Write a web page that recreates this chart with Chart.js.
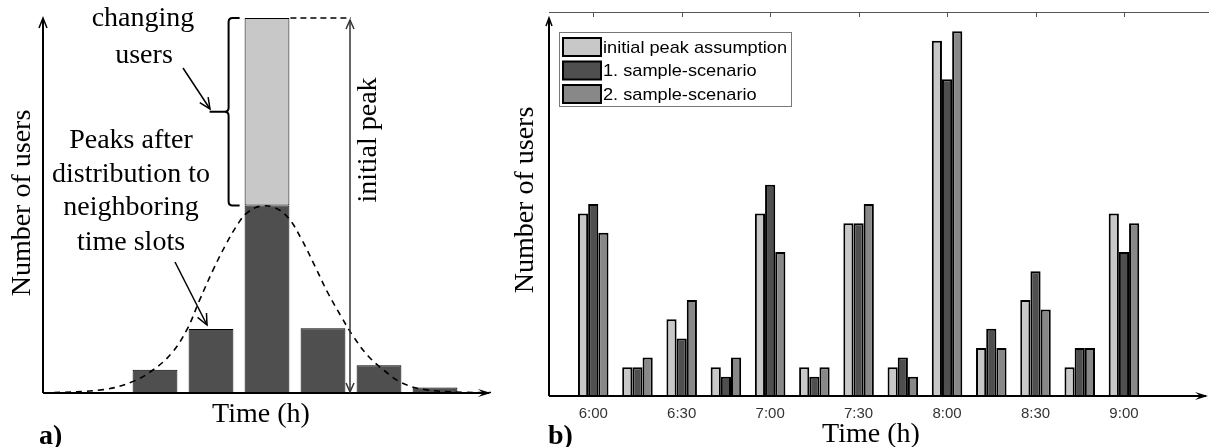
<!DOCTYPE html>
<html>
<head>
<meta charset="utf-8">
<script src="https://cdn.jsdelivr.net/npm/chart.js@4"></script>
<style>
  body { margin: 0; background: #fff; }
  #wrap { position: relative; width: 1209px; height: 447px; }
  canvas { position: absolute; top: 0; }
</style>
</head>
<body>
<div id="wrap">
  <canvas id="chartA" width="500" height="447" style="left:0"></canvas>
  <canvas id="chartB" width="709" height="447" style="left:500px"></canvas>
</div>
<script>
// ---- panel a) (schematic, slot 0 = the peak slot) ----
const slotsA = [-2, -1, 0, 1, 2, 3];
const peaksAfter = [6.2, 17.1, 50, 17.3, 7.4, 1.5];
const initialPeak = [0, 0, 100, 0, 0, 0];
const curveX = [-4, -2.92, -2.39, -2.03, -1.7, -1.43, -1.2, -0.96, -0.72, -0.51, -0.36, -0.12, 0.14, 0.38, 0.62, 0.86, 1.09, 1.34, 1.54, 1.81, 2.11, 2.41, 2.82, 3.5, 4];
const curveY = [0, 0.9, 3.1, 6.2, 10.7, 16.9, 24.9, 32.9, 40, 45.3, 48, 49.8, 49.4, 46.7, 40.9, 33.7, 26.6, 20, 15.1, 9.8, 5.8, 2.7, 0.9, 0.2, 0.1];

// ---- panel b) ----
const times = ['6:00', '6:15', '6:30', '6:45', '7:00', '7:15', '7:30', '7:45', '8:00', '8:15', '8:30', '8:45', '9:00'];
const tickLabels = ['6:00', '6:30', '7:00', '7:30', '8:00', '8:30', '9:00'];
const initialAssumption = [19, 3, 8, 3, 19, 3, 18, 3, 37, 5, 10, 3, 19];
const scenario1 = [20, 3, 6, 2, 22, 2, 18, 4, 33, 7, 13, 5, 15];
const scenario2 = [17, 4, 10, 4, 15, 3, 20, 2, 38, 5, 9, 5, 18];

const serif = "'Liberation Serif', 'Times New Roman', serif";
const sans = "'Liberation Sans', Arial, sans-serif";

function chevron(ctx, x, y, dx, dy, w, l) {
    // open arrow head at (x,y) pointing in direction (dx,dy)
    ctx.beginPath();
    ctx.moveTo(x - dx * l - dy * w, y - dy * l + dx * w);
    ctx.lineTo(x, y);
    ctx.lineTo(x - dx * l + dy * w, y - dy * l - dx * w);
    ctx.stroke();
}

function solidHead(ctx, x, y, dx, dy, w, l) {
    ctx.beginPath();
    ctx.moveTo(x, y);
    ctx.lineTo(x - dx * l - dy * w, y - dy * l + dx * w);
    ctx.lineTo(x - dx * l * 0.6, y - dy * l * 0.6);
    ctx.lineTo(x - dx * l + dy * w, y - dy * l - dx * w);
    ctx.closePath();
    ctx.fill();
}

function arrow(ctx, x1, y1, x2, y2) {
    const len = Math.hypot(x2 - x1, y2 - y1);
    const dx = (x2 - x1) / len, dy = (y2 - y1) / len;
    ctx.beginPath();
    ctx.moveTo(x1, y1);
    ctx.lineTo(x2, y2);
    ctx.stroke();
    chevron(ctx, x2, y2, dx, dy, 5, 11);
}

const annotA = {
    id: 'annotA',
    afterDraw(chart) {
        const ctx = chart.ctx;
        const a = chart.chartArea;
        const xs = chart.scales.x, ys = chart.scales.y;
        ctx.save();
        ctx.strokeStyle = '#000';
        ctx.fillStyle = '#000';

        // axes
        ctx.lineWidth = 2;
        ctx.beginPath();
        ctx.moveTo(a.left, a.bottom);
        ctx.lineTo(a.left, a.top + 1);
        ctx.moveTo(a.left, a.bottom);
        ctx.lineTo(a.right - 2, a.bottom);
        ctx.stroke();
        ctx.lineWidth = 1.5;
        chevron(ctx, a.left, a.top, 0, -1, 4, 10);
        solidHead(ctx, a.right, a.bottom, 1, 0, 4, 13);

        // brace around the changing users
        const i0 = slotsA.indexOf(0);
        const peakTop = ys.getPixelForValue(initialPeak[i0]);
        const peakMid = ys.getPixelForValue(peaksAfter[i0]);
        const barLeft = xs.getPixelForValue(-0.4);
        const bx = barLeft - 16;
        const by = (peakTop + peakMid) / 2;
        ctx.lineWidth = 2;
        ctx.beginPath();
        ctx.moveTo(bx + 11, peakTop);
        ctx.lineTo(bx + 4, peakTop);
        ctx.quadraticCurveTo(bx, peakTop, bx, peakTop + 4);
        ctx.lineTo(bx, by - 4);
        ctx.quadraticCurveTo(bx, by, bx - 4, by);
        ctx.lineTo(bx - 19, by);
        ctx.moveTo(bx - 4, by);
        ctx.quadraticCurveTo(bx, by, bx, by + 4);
        ctx.lineTo(bx, peakMid - 4);
        ctx.quadraticCurveTo(bx, peakMid, bx + 4, peakMid);
        ctx.lineTo(bx + 11, peakMid);
        ctx.stroke();

        // pointer arrows
        ctx.lineWidth = 1.5;
        arrow(ctx, 183, 68, 210, 109);
        arrow(ctx, 175, 262, 207, 325);

        // initial peak marker
        const barRight = xs.getPixelForValue(0.4);
        const vx = 350;
        ctx.setLineDash([6, 4]);
        ctx.beginPath();
        ctx.moveTo(barRight + 1, peakTop);
        ctx.lineTo(vx + 1, peakTop);
        ctx.stroke();
        ctx.setLineDash([]);
        ctx.strokeStyle = '#333';
        ctx.beginPath();
        ctx.moveTo(vx, peakTop + 2);
        ctx.lineTo(vx, a.bottom - 1);
        ctx.stroke();
        chevron(ctx, vx, peakTop + 2, 0, -1, 4, 9);
        chevron(ctx, vx, a.bottom - 1, 0, 1, 4, 9);

        // texts
        ctx.fillStyle = '#000';
        ctx.font = '28px ' + serif;
        ctx.textAlign = 'center';
        ctx.textBaseline = 'alphabetic';
        ctx.fillText('changing', 143, 26);
        ctx.fillText('users', 144, 63);
        ctx.fillText('Peaks after', 131, 148);
        ctx.fillText('distribution to', 131, 182);
        ctx.fillText('neighboring', 131, 215);
        ctx.fillText('time slots', 131, 250);

        ctx.textBaseline = 'middle';
        ctx.fillText('Time (h)', 261, 415);

        ctx.save();
        ctx.translate(369, 140);
        ctx.rotate(-Math.PI / 2);
        ctx.fillText('initial peak', 0, 0);
        ctx.restore();

        ctx.save();
        ctx.translate(23, 203);
        ctx.rotate(-Math.PI / 2);
        ctx.fillText('Number of users', 0, 0);
        ctx.restore();

        ctx.font = 'bold 28px ' + serif;
        ctx.textAlign = 'left';
        ctx.fillText('a)', 39, 437);
        ctx.restore();
    }
};

new Chart(document.getElementById('chartA'), {
    type: 'bar',
    data: {
        datasets: [{
            type: 'line',
            data: curveX.map((x, i) => ({ x: x, y: curveY[i] })),
            borderColor: '#000',
            borderWidth: 1.6,
            borderDash: [6, 5],
            pointRadius: 0,
            tension: 0.4,
            fill: false
        }, {
            data: slotsA.map((x, i) => ({ x: x, y: peaksAfter[i] })),
            backgroundColor: '#4f4f4f',
            borderColor: '#000',
            borderWidth: 1,
            borderSkipped: false,
            grouped: false,
            categoryPercentage: 0.8,
            barPercentage: 1
        }, {
            data: slotsA.map((x, i) => ({ x: x, y: [peaksAfter[i], initialPeak[i]] }))
                .filter((d, i) => initialPeak[i] > 0),
            backgroundColor: '#c8c8c8',
            borderColor: '#000',
            borderWidth: 1,
            borderSkipped: false,
            grouped: false,
            categoryPercentage: 0.8,
            barPercentage: 1
        }]
    },
    options: {
        responsive: false,
        animation: false,
        layout: { padding: { left: 43, top: 18, right: 9, bottom: 54 } },
        scales: {
            x: { type: 'linear', min: -4, max: 4, offset: false, display: false, ticks: { stepSize: 1 } },
            y: { min: 0, max: 100, display: false }
        },
        plugins: { legend: { display: false }, tooltip: { enabled: false } }
    },
    plugins: [annotA]
});

// ---- panel b) ----
const seriesB = [
    { label: 'initial peak assumption', values: initialAssumption, color: '#c8c8c8' },
    { label: '1. sample-scenario', values: scenario1, color: '#4f4f4f' },
    { label: '2. sample-scenario', values: scenario2, color: '#888888' }
];
const tickIdx = tickLabels.map(t => times.indexOf(t));

const annotB = {
    id: 'annotB',
    afterDraw(chart) {
        const ctx = chart.ctx;
        const a = chart.chartArea;
        const xs = chart.scales.x;
        ctx.save();

        // top frame with ticks, small ticks at the bottom
        ctx.strokeStyle = '#555';
        ctx.lineWidth = 1;
        ctx.beginPath();
        ctx.moveTo(a.left, a.top + 0.5);
        ctx.lineTo(chart.width, a.top + 0.5);
        tickIdx.forEach(v => {
            const px = Math.round(xs.getPixelForValue(v)) + 0.5;
            ctx.moveTo(px, a.top);
            ctx.lineTo(px, a.top + 5);
            ctx.moveTo(px, a.bottom);
            ctx.lineTo(px, a.bottom - 5);
        });
        ctx.stroke();

        // axes
        ctx.strokeStyle = '#000';
        ctx.fillStyle = '#000';
        ctx.lineWidth = 2;
        ctx.beginPath();
        ctx.moveTo(a.left, a.bottom);
        ctx.lineTo(a.left, a.top + 7);
        ctx.moveTo(a.left, a.bottom);
        ctx.lineTo(a.right - 2, a.bottom);
        ctx.stroke();
        ctx.lineWidth = 1.5;
        chevron(ctx, a.left, a.top + 6, 0, -1, 3, 8);
        solidHead(ctx, a.right, a.bottom, 1, 0, 4, 13);

        // legend
        const lx = 59, ly = 32, lw = 232, lh = 74;
        ctx.fillStyle = '#fff';
        ctx.fillRect(lx, ly, lw, lh);
        ctx.strokeStyle = '#777';
        ctx.lineWidth = 1;
        ctx.strokeRect(lx + 0.5, ly + 0.5, lw, lh);
        chart.data.datasets.forEach((ds, i) => {
            const ry = ly + 15 + i * 23.5;
            ctx.fillStyle = ds.backgroundColor;
            ctx.fillRect(lx + 4, ry - 9, 38, 18);
            ctx.strokeStyle = '#000';
            ctx.lineWidth = 2;
            ctx.strokeRect(lx + 4, ry - 9, 38, 18);
            ctx.save();
            ctx.translate(lx + 44, ry + 1);
            ctx.scale(1.07, 1);
            ctx.fillStyle = '#000';
            ctx.font = '17px ' + sans;
            ctx.textAlign = 'left';
            ctx.textBaseline = 'middle';
            ctx.fillText(ds.label, 0, 0);
            ctx.restore();
        });

        // titles
        ctx.fillStyle = '#000';
        ctx.font = '28px ' + serif;
        ctx.textAlign = 'center';
        ctx.textBaseline = 'middle';
        ctx.fillText('Time (h)', 371, 435);
        ctx.save();
        ctx.translate(26, 200);
        ctx.rotate(-Math.PI / 2);
        ctx.fillText('Number of users', 0, 0);
        ctx.restore();
        ctx.font = 'bold 28px ' + serif;
        ctx.textAlign = 'left';
        ctx.fillText('b)', 48, 437);
        ctx.restore();
    }
};

new Chart(document.getElementById('chartB'), {
    type: 'bar',
    data: {
        datasets: seriesB.map(s => ({
            label: s.label,
            data: s.values.map((v, i) => ({ x: i, y: v })),
            backgroundColor: s.color,
            borderColor: '#000',
            borderWidth: 2,
            borderSkipped: 'start',
            categoryPercentage: 0.69,
            barPercentage: 1
        }))
    },
    options: {
        responsive: false,
        animation: false,
        layout: { padding: { left: 49, top: 12, right: 1, bottom: 15 } },
        scales: {
            x: {
                type: 'linear',
                min: -1,
                max: 13.9,
                offset: false,
                grid: { display: false, drawTicks: false },
                border: { display: false },
                afterBuildTicks: axis => { axis.ticks = tickIdx.map(v => ({ value: v })); },
                ticks: {
                    autoSkip: false,
                    maxRotation: 0,
                    padding: 9,
                    color: '#333',
                    font: { family: 'Liberation Sans', size: 15 },
                    callback: value => times[value]
                }
            },
            y: { min: 0, max: 40, display: false }
        },
        plugins: { legend: { display: false }, tooltip: { enabled: false } }
    },
    plugins: [annotB]
});
</script>
</body>
</html>
